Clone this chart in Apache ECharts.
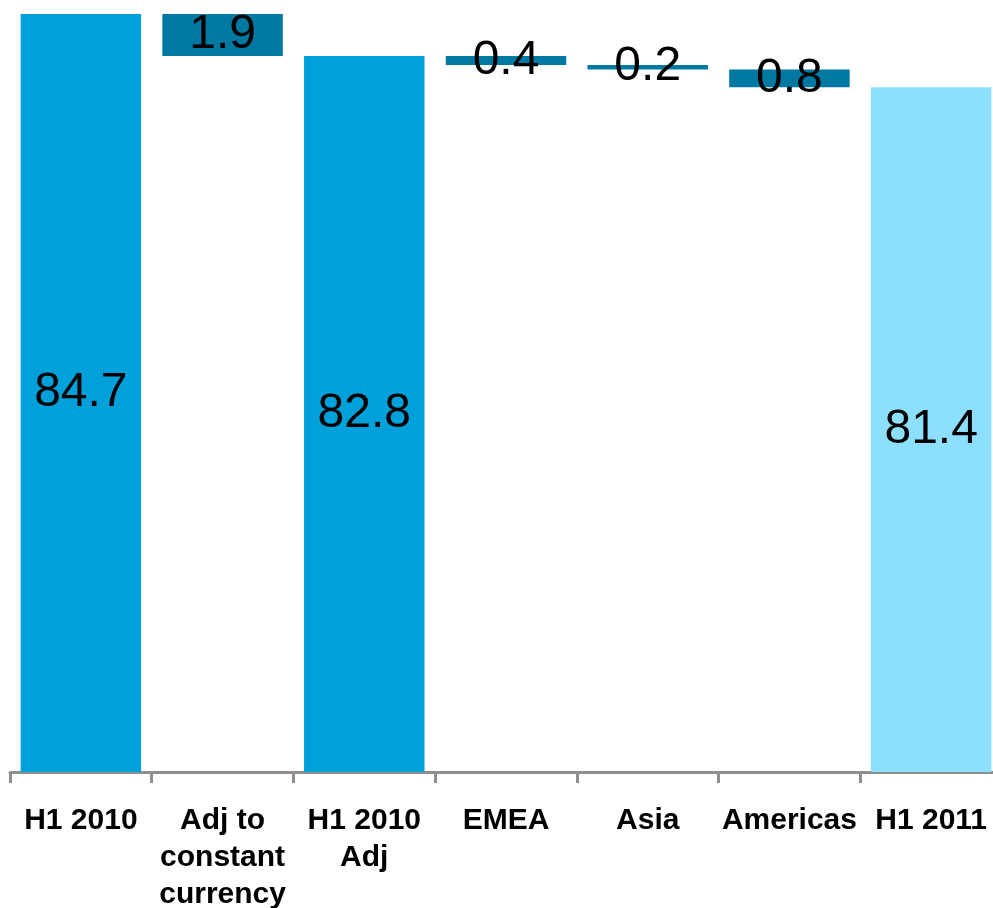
<!DOCTYPE html>
<html>
<head>
<meta charset="utf-8">
<style>
  html, body { margin: 0; padding: 0; background: #ffffff; }
  #chart { width: 993px; height: 908px; }
</style>
<script src="https://cdn.jsdelivr.net/npm/echarts@6/dist/echarts.min.js"></script>
</head>
<body>
<div id="chart"></div>
<script>
// Waterfall: H1 2010 revenue bridged to H1 2011
const categories = ['H1 2010', 'Adj to\nconstant\ncurrency', 'H1 2010\nAdj', 'EMEA', 'Asia', 'Americas', 'H1 2011'];
const values = [84.7, 1.9, 82.8, 0.4, 0.2, 0.8, 81.4];
// 'total' bars rise from the axis, 'drop' bars float and reduce the running total
const kinds = ['total', 'drop', 'total', 'drop', 'drop', 'drop', 'final'];

const palette = { total: '#00A0DA', drop: '#0079A2', final: '#8CDFFD' };

// Invisible base under each floating bar, from the running total
const bases = [];
let running = 0;
values.forEach((v, i) => {
  if (kinds[i] === 'drop') {
    running = Math.round((running - v) * 10) / 10;
    bases.push(running);
  } else {
    running = v;
    bases.push(0);
  }
});

const chart = echarts.init(document.getElementById('chart'));
chart.setOption({
  animation: false,
  grid: { left: 10, right: -9, top: 14, bottom: 136, containLabel: false, outerBoundsMode: 'none' },
  xAxis: {
    type: 'category',
    data: categories,
    axisLine: { show: true, lineStyle: { color: '#8f8f8f', width: 3 } },
    axisTick: { show: true, length: 11, lineStyle: { color: '#8f8f8f', width: 3 } },
    axisLabel: {
      color: '#000000',
      fontFamily: 'Liberation Sans, Arial, sans-serif',
      fontWeight: 'bold',
      fontSize: 30,
      lineHeight: 37,
      margin: 30,
      interval: 0
    }
  },
  yAxis: {
    type: 'value',
    min: 50.5,
    max: 84.7,
    show: false,
    splitLine: { show: false }
  },
  series: [
    {
      type: 'bar',
      stack: 'bridge',
      data: bases,
      barCategoryGap: '15%',
      itemStyle: { color: 'rgba(0,0,0,0)' },
      emphasis: { disabled: true },
      silent: true
    },
    {
      type: 'bar',
      stack: 'bridge',
      data: values.map((v, i) => ({ value: v, itemStyle: { color: palette[kinds[i]] } })),
      barCategoryGap: '15%',
      label: {
        show: true,
        position: 'inside',
        color: '#000000',
        fontFamily: 'Liberation Sans, Arial, sans-serif',
        fontSize: 48,
        formatter: p => p.value.toFixed(1)
      }
    }
  ]
});
</script>
</body>
</html>
